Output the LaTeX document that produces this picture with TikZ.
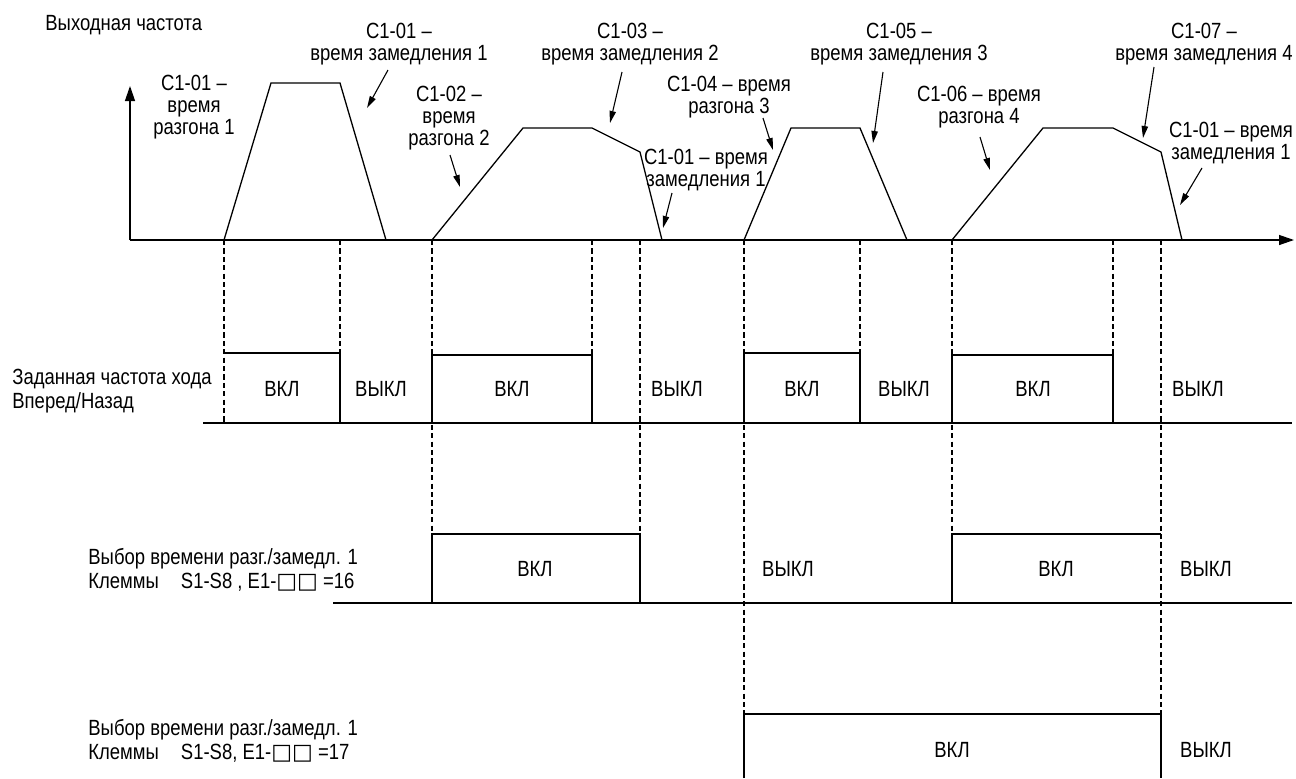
\documentclass[tikz,border=0pt]{standalone}
\usepackage{fontspec}
\setmainfont[FakeStretch=0.84]{Liberation Sans}
\newfontfamily\symfont{DejaVu Sans}
\usetikzlibrary{arrows.meta}
\begin{document}
\begin{tikzpicture}[x=0.5pt,y=-0.5pt,
  lbl/.style={inner sep=0pt, align=center, font=\fontsize{11}{10.8}\selectfont},
  rowlbl/.style={inner sep=0pt, align=left, anchor=west, font=\fontsize{11}{12.2}\selectfont},
  st/.style={inner sep=0pt, font=\fontsize{11}{10.8}\selectfont},
  guide/.style={dash pattern=on 2.6pt off 1.6pt, line width=0.6pt},
  ptr/.style={-{Triangle[length=6pt,width=3.2pt]}, line width=0.55pt},
  axisline/.style={-{Triangle[length=7.5pt,width=5pt]}, line width=0.65pt},
  sig/.style={line width=0.65pt}]
\useasboundingbox (0,0) rectangle (1296,778);

% ---------- axes ----------
\coordinate (O) at (130,240);
\coordinate (Ytop) at (130,86);
\coordinate (Xend) at (1294,240);
\draw[axisline] (O) -- (Ytop);
\draw[axisline] (O) -- (Xend);

% ---------- output frequency waveform ----------
\draw[sig] (224,240) -- (271,83) -- (340,83) -- (386,240);
\draw[sig] (432,240) -- (523,128) -- (592,128) -- (640,152) -- (662,240);
\draw[sig] (744,240) -- (791,128) -- (860,128) -- (907,240);
\draw[sig] (952,240) -- (1043,128) -- (1113,128) -- (1161,152) -- (1182,240);

% ---------- dashed guides ----------
\draw[guide] (224,240) -- (224,423);
\draw[guide] (340,240) -- (340,353);
\draw[guide] (432,240) -- (432,534);
\draw[guide] (592,240) -- (592,355);
\draw[guide] (640,240) -- (640,534);
\draw[guide] (744,240) -- (744,714);
\draw[guide] (860,240) -- (860,353);
\draw[guide] (952,240) -- (952,534);
\draw[guide] (1113,240) -- (1113,355);
\draw[guide] (1161,240) -- (1161,714);

% ---------- labels of the top graph ----------
\node[st, anchor=west] (title) at (45,25) {Выходная частота};
\node[lbl] (l1) at (194,107) {C1-01 –\\время\\разгона 1};
\node[lbl] (l2) at (399,44) {C1-01 –\\время замедления 1};
\node[lbl] (l3) at (449,118) {C1-02 –\\время\\разгона 2};
\node[lbl] (l4) at (630,44) {C1-03 –\\время замедления 2};
\node[lbl] (l5) at (706,170) {C1-01 – время\\замедления 1};
\node[lbl] (l6) at (729,97) {C1-04 – время\\разгона 3};
\node[lbl] (l7) at (899,44) {C1-05 –\\время замедления 3};
\node[lbl] (l8) at (979,107) {C1-06 – время\\разгона 4};
\node[lbl] (l9) at (1204,44) {C1-07 –\\время замедления 4};
\node[lbl] (l10) at (1231,143) {C1-01 – время\\замедления 1};

% ---------- pointer arrows ----------
\coordinate (a2s) at (388,70);   \coordinate (a2e) at (367,108);
\coordinate (a3s) at (450,155);  \coordinate (a3e) at (460,187);
\coordinate (a4s) at (622,72);   \coordinate (a4e) at (610,123);
\coordinate (a5s) at (672,193);  \coordinate (a5e) at (663,228);
\coordinate (a6s) at (763,118);  \coordinate (a6e) at (773,150);
\coordinate (a7s) at (883,72);   \coordinate (a7e) at (873,143);
\coordinate (a8s) at (980,137);  \coordinate (a8e) at (990,170);
\coordinate (a9s) at (1154,67);  \coordinate (a9e) at (1143,138);
\coordinate (a10s) at (1202,168); \coordinate (a10e) at (1180,205);
\foreach \i in {2,...,10} {\draw[ptr] (a\i s) -- (a\i e);}

% ---------- row 1: run command ----------
\draw[sig] (203,423) -- (1292,423);
\draw[sig] (224,353) -- (340,353) -- (340,423);
\draw[sig] (432,423) -- (432,355) -- (592,355) -- (592,423);
\draw[sig] (744,423) -- (744,353) -- (860,353) -- (860,423);
\draw[sig] (952,423) -- (952,355) -- (1113,355) -- (1113,423);
\node[rowlbl] (r1) at (12,391) {Заданная частота хода\\Вперед/Назад};
\node[st] (r1a) at (282,389) {ВКЛ};
\node[st] (r1b) at (381,389) {ВЫКЛ};
\node[st] (r1c) at (512,389) {ВКЛ};
\node[st] (r1d) at (677,389) {ВЫКЛ};
\node[st] (r1e) at (802,389) {ВКЛ};
\node[st] (r1f) at (904,389) {ВЫКЛ};
\node[st] (r1g) at (1033,389) {ВКЛ};
\node[st] (r1h) at (1198,389) {ВЫКЛ};

% ---------- row 2: E1-xx = 16 ----------
\draw[sig] (333,603) -- (1292,603);
\draw[sig] (432,603) -- (432,534) -- (640,534) -- (640,603);
\draw[sig] (952,603) -- (952,534) -- (1161,534);
\draw[guide] (1161,534) -- (1161,603);
\node[rowlbl] (r2) at (88,570) {Выбор времени разг./замедл. 1\\Клеммы\hspace{1em}S1-S8 , E1-{\symfont □□} =16};
\node[st] (r2a) at (535,569) {ВКЛ};
\node[st] (r2b) at (788,569) {ВЫКЛ};
\node[st] (r2c) at (1056,569) {ВКЛ};
\node[st] (r2d) at (1206,569) {ВЫКЛ};

% ---------- row 3: E1-xx = 17 ----------
\draw[sig] (744,778) -- (744,714) -- (1161,714) -- (1161,778);
\node[rowlbl] (r3) at (88,741) {Выбор времени разг./замедл. 1\\Клеммы\hspace{1em}S1-S8, E1-{\symfont □□} =17};
\node[st] (r3a) at (952,750) {ВКЛ};
\node[st] (r3b) at (1206,750) {ВЫКЛ};
\end{tikzpicture}
\end{document}
